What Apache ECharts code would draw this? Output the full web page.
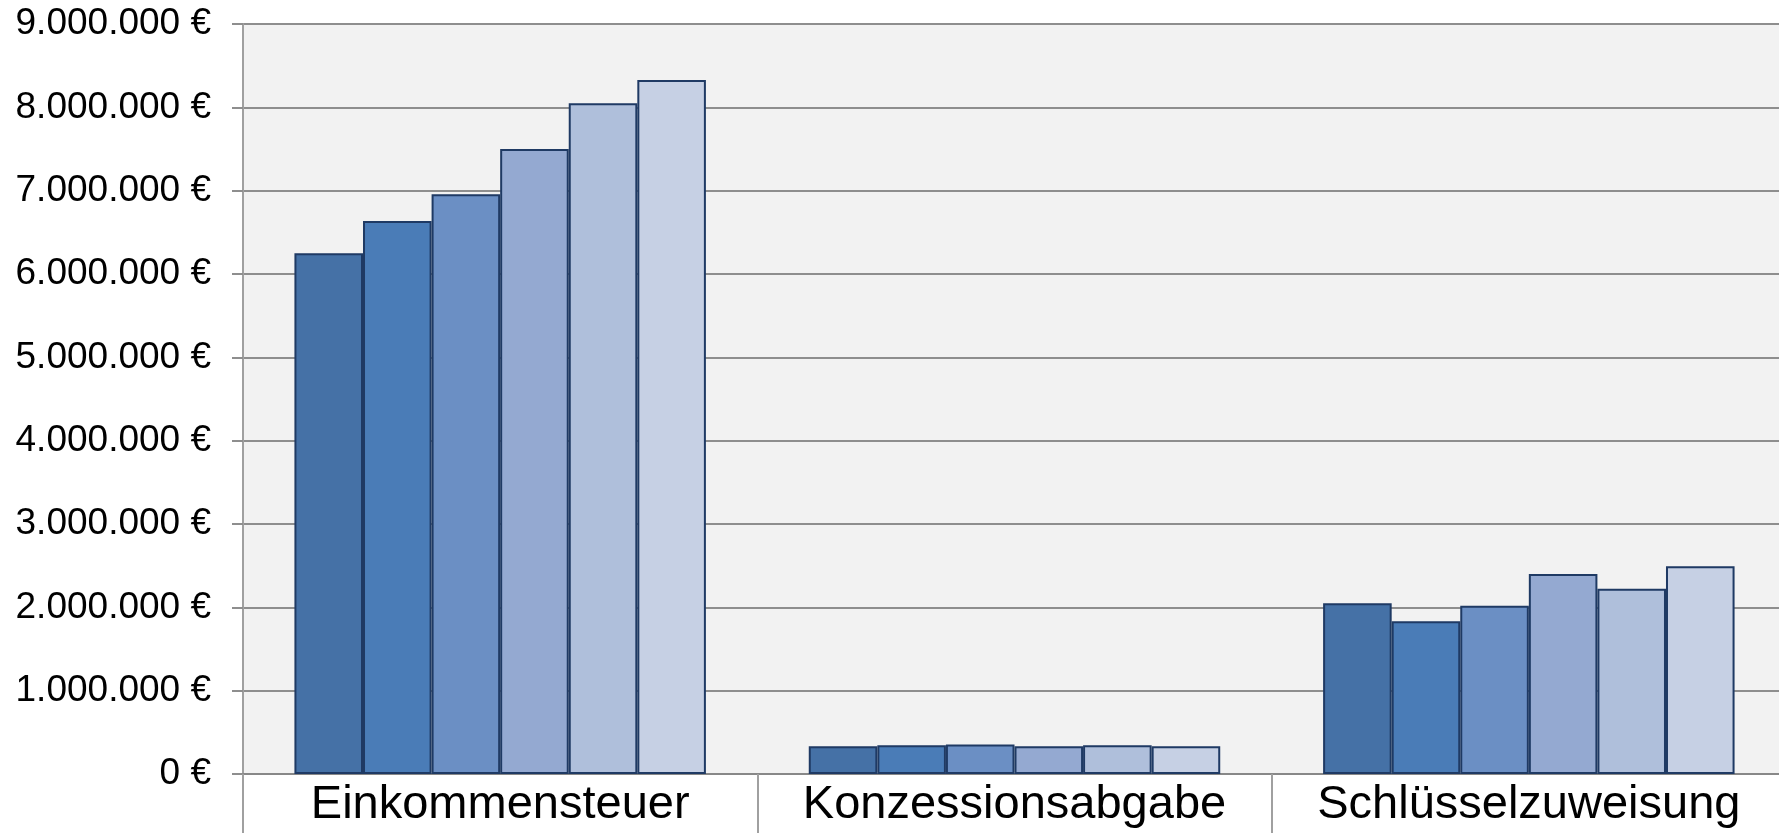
<!DOCTYPE html>
<html>
<head>
<meta charset="utf-8">
<script src="https://cdn.jsdelivr.net/npm/echarts@6/dist/echarts.min.js"></script>
<style>
  html, body { margin: 0; padding: 0; background: #fff; }
  #chart { width: 1779px; height: 833px; }
</style>
</head>
<body>
<div id="chart"></div>
<script>
// categories and one value per year-series (in Euro)
const categories = ['Einkommensteuer', 'Konzessionsabgabe', 'Schlüsselzuweisung'];
const year1 = [6250000, 333000, 2048000];
const year2 = [6637000, 345000, 1832000];
const year3 = [6957000, 354000, 2020000];
const year4 = [7500000, 333000, 2400000];
const year5 = [8048000, 345000, 2224000];
const year6 = [8327000, 333000, 2492000];
const yTicks = [0, 1000000, 2000000, 3000000, 4000000, 5000000, 6000000, 7000000, 8000000, 9000000];

const seriesData = [year1, year2, year3, year4, year5, year6];
const seriesColors = ['#4571a6', '#4a7cb7', '#6b8fc4', '#94a9d1', '#afbfdb', '#c6d0e4'];

const fmtEuro = (v) => String(v).replace(/\B(?=(\d{3})+(?!\d))/g, '.') + ' €';

const chart = echarts.init(document.getElementById('chart'));

const options = {
  animation: false,
  textStyle: { fontFamily: '"Liberation Sans", Arial, sans-serif' },
  grid: {
    left: 243,
    width: 1543, // plot runs a few px past the right edge, as in the original
    top: 24,
    bottom: 59,
    outerBoundsMode: 'none',
    show: true,
    backgroundColor: '#f2f2f2',
    borderWidth: 0,
  },
  xAxis: {
    type: 'category',
    data: categories,
    axisLine: {
      lineStyle: { color: '#888', width: 2 },
    },
    axisTick: {
      show: true,
      interval: 0,
      length: 60,
      lineStyle: { color: '#a0a0a0', width: 2 },
    },
    axisLabel: {
      interval: 0,
      color: '#000',
      fontSize: 47,
      margin: 8,
    },
  },
  yAxis: {
    type: 'value',
    min: yTicks[0],
    max: yTicks[yTicks.length - 1],
    interval: 1000000,
    axisLine: {
      show: true,
      lineStyle: { color: '#a0a0a0', width: 2 },
    },
    axisTick: {
      show: true,
      length: 11,
      lineStyle: { color: '#8e8e8e', width: 2 },
    },
    splitLine: {
      lineStyle: { color: '#8e8e8e', width: 2 },
    },
    axisLabel: {
      color: '#000',
      fontSize: 37,
      margin: 32,
      formatter: fmtEuro,
    },
  },
  series: seriesData.map((d, i) => ({
    name: 'Jahr ' + (i + 1),
    type: 'bar',
    data: d,
    barGap: '0%',
    barCategoryGap: '20%',
    itemStyle: {
      color: seriesColors[i],
      borderColor: '#1f3a64',
      borderWidth: 2,
    },
  })),
};

chart.setOption(options);
</script>
</body>
</html>
